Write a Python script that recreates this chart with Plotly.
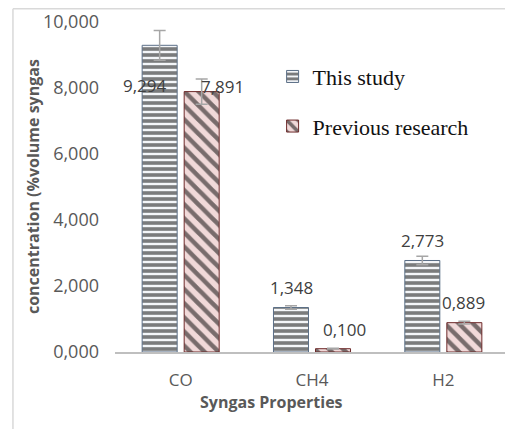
import plotly.graph_objects as go

categories = ["CO", "CH4", "H2"]
this_study = [9.294, 1.348, 2.773]
this_study_err = [0.45, 0.05, 0.13]
previous = [7.891, 0.100, 0.889]
previous_err = [0.38, 0.01, 0.04]
tick_values = [0, 2, 4, 6, 8, 10]
x_title = "Syngas Properties"
y_title = "concentration (%volume syngas"

def fmt(v):
    return f"{v:.3f}".replace(".", ",")

tick_text = [fmt(v) for v in tick_values]

fig = go.Figure()
fig.add_trace(go.Bar(
    name="This study", x=categories, y=this_study, legendgroup="a",
    error_y=dict(type="data", array=this_study_err, color="#a6a6a6", thickness=1.5, width=6),
    marker=dict(color="white", line=dict(color="#5b6f87", width=1),
                pattern=dict(shape="-", fgcolor="#000000", bgcolor="#f4f6f9", size=6, solidity=0.6)),
))
fig.add_trace(go.Bar(
    name="Previous research", x=categories, y=previous, legendgroup="b",
    error_y=dict(type="data", array=previous_err, color="#a6a6a6", thickness=1.5, width=6),
    marker=dict(color="white", line=dict(color="#6e2a2a", width=1),
                pattern=dict(shape="\\", fgcolor="#000000", bgcolor="#f1d9d9", size=10, solidity=0.45)),
))

# data labels: (xshift, yshift) in pixels relative to bar top
this_shifts = [(-15, -40), (0, 20), (0, 20)]
prev_shifts = [(21, 5), (12, 19), (0, 20)]
half = 20.5
for c, v, (dx, dy) in zip(categories, this_study, this_shifts):
    fig.add_annotation(x=c, y=v, text=fmt(v), showarrow=False, xshift=-half + dx, yshift=dy,
                       font=dict(family="Open Sans", size=17, color="#404040"))
for c, v, (dx, dy) in zip(categories, previous, prev_shifts):
    fig.add_annotation(x=c, y=v, text=fmt(v), showarrow=False, xshift=half + dx, yshift=dy,
                       font=dict(family="Open Sans", size=17, color="#404040"))

# axis titles
fig.add_annotation(xref="paper", yref="paper", x=0.398, y=-0.152, xanchor="center", yanchor="middle",
                   text=f"<b>{x_title}</b>",
                   showarrow=False, font=dict(family="Open Sans", size=16, color="#595959"))
fig.add_annotation(xref="paper", yref="paper", x=-0.208, y=0.5, xanchor="center", yanchor="middle",
                   text=f"<b>{y_title}</b>", textangle=-90,
                   showarrow=False, font=dict(family="Open Sans", size=16, color="#595959"))

fig.update_layout(
    width=505, height=421,
    margin=dict(l=107, r=4, t=14, b=77),
    paper_bgcolor="white", plot_bgcolor="white",
    barmode="group", bargap=0.36, bargroupgap=0.167,
    font=dict(family="Open Sans", color="#595959"),
    legend=dict(x=0.40, y=0.898, xanchor="left", yanchor="top",
                font=dict(family="Liberation Serif", size=22, color="#111111"),
                tracegroupgap=18, bgcolor="rgba(0,0,0,0)"),
    showlegend=True,
    shapes=[
        dict(type="line", xref="paper", yref="paper", x0=-0.259, x1=-0.259, y0=1.04, y1=-0.25,
             line=dict(color="#d9d9d9", width=1.5)),
        dict(type="line", xref="paper", yref="paper", x0=-0.259, x1=1.02, y0=1.04, y1=1.04,
             line=dict(color="#d9d9d9", width=1.5)),
    ],
)
fig.update_xaxes(showline=True, linecolor="#bfbfbf", linewidth=2, showgrid=False, automargin=False,
                 range=[-0.5, 2.5], ticklabelstandoff=12,
                 tickfont=dict(size=17, color="#595959"), ticks="")
fig.update_yaxes(range=[0, 10], tickvals=tick_values, ticktext=tick_text, showgrid=False, automargin=False,
                 zeroline=False, showline=False, ticks="", ticklabelstandoff=15,
                 tickfont=dict(size=18, color="#595959"))

fig.write_html("out.html")
